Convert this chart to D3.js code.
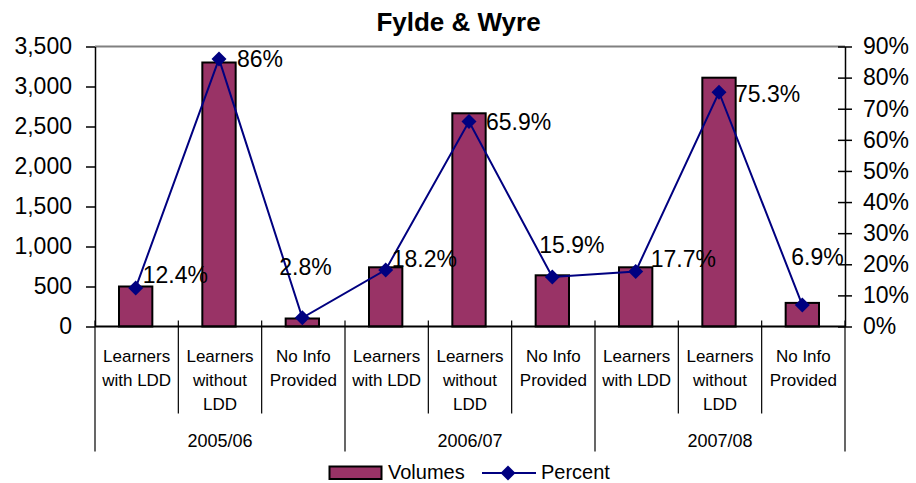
<!DOCTYPE html>
<html>
<head>
<meta charset="utf-8">
<script src="https://cdn.jsdelivr.net/npm/d3@7"></script>
<style>
  body { margin: 0; background: #fff; }
  text { font-family: "Liberation Sans", Arial, sans-serif; fill: #000; }
</style>
</head>
<body>
<svg id="chart" width="916" height="483"></svg>
<script>
const years = ['2005/06', '2006/07', '2007/08'];
const categories = ['Learners with LDD', 'Learners without LDD', 'No Info Provided'];
const categoryLines = [['Learners', 'with LDD'], ['Learners', 'without', 'LDD'], ['No Info', 'Provided']];
const volumes = [500, 3300, 100, 740, 2665, 640, 740, 3110, 295];
const percents = [0.124, 0.86, 0.028, 0.182, 0.659, 0.159, 0.177, 0.753, 0.069];
const percentLabels = ['12.4%', '86%', '2.8%', '18.2%', '65.9%', '15.9%', '17.7%', '75.3%', '6.9%'];
const volumeTicks = [0, 500, 1000, 1500, 2000, 2500, 3000, 3500];
const percentTicks = [0, 0.1, 0.2, 0.3, 0.4, 0.5, 0.6, 0.7, 0.8, 0.9];
// label nudges relative to the marker (Excel moved some of them)
const labelNudge = [[7, -13], [18, 0], [-23, -51], [6, -11], [17, 0], [-13, -32], [15, -13], [16, 1], [-11, -48]];

const svg = d3.select('#chart');
const margin = {left: 95, right: 71, top: 46.5, bottom: 156.5};
const width = 916 - margin.left - margin.right;
const height = 483 - margin.top - margin.bottom;

const rows = [];
years.forEach((yr, g) => categories.forEach((c, k) => {
  const i = g * categories.length + k;
  rows.push({key: i, year: yr, cat: k, volume: volumes[i], pct: percents[i], label: percentLabels[i]});
}));

const x = d3.scaleBand()
    .domain(rows.map((d) => d.key))
    .range([0, width])
    .paddingInner(0.6)
    .paddingOuter(0.3);
const step = x.step();
const yLeft = d3.scaleLinear().domain([0, 3500]).range([height, 0]);
const yRight = d3.scaleLinear().domain([0, 0.9]).range([height, 0]);

const chart = svg.append('g')
    .attr('transform', `translate(${margin.left},${margin.top})`);

// title
svg.append('text')
    .attr('x', 458.5)
    .attr('y', 31)
    .attr('text-anchor', 'middle')
    .style('font-size', '26px')
    .style('font-weight', 'bold')
    .text('Fylde & Wyre');

// plot border top
chart.append('line')
    .attr('x1', 0).attr('x2', width)
    .attr('y1', 0).attr('y2', 0)
    .style('stroke', '#808080')
    .style('stroke-width', 2);

// bars
chart.selectAll('rect.bar')
    .data(rows)
    .enter()
    .append('rect')
    .classed('bar', true)
    .attr('x', (d) => x(d.key) - 1)
    .attr('y', (d) => yLeft(d.volume))
    .attr('width', x.bandwidth())
    .attr('height', (d) => height - yLeft(d.volume))
    .style('fill', '#993366')
    .style('stroke', '#000')
    .style('stroke-width', 2);

// left axis
const leftAxis = chart.append('g')
    .call(d3.axisLeft(yLeft).tickValues(volumeTicks).tickFormat(d3.format(',')).tickSize(9).tickSizeOuter(0).tickPadding(14));
leftAxis.selectAll('text').style('font-size', '23px');
leftAxis.selectAll('line, path').style('stroke', '#000').style('stroke-width', 1.5);

// right axis
const rightAxis = chart.append('g')
    .attr('transform', `translate(${width},0)`)
    .call(d3.axisRight(yRight).tickValues(percentTicks).tickFormat(d3.format('.0%')).tickSize(7).tickSizeOuter(0).tickPadding(11));
rightAxis.selectAll('.tick line').attr('x1', -7);
rightAxis.selectAll('text').style('font-size', '23px');
rightAxis.selectAll('line, path').style('stroke', '#000').style('stroke-width', 1.5);

// category axis
const catAxis = chart.append('g').attr('transform', `translate(0,${height})`);
catAxis.append('line')
    .attr('x1', 0).attr('x2', width)
    .style('stroke', '#000')
    .style('stroke-width', 2);
const boundaries = d3.range(rows.length + 1);
catAxis.selectAll('line.tick')
    .data(boundaries)
    .enter()
    .append('line')
    .classed('tick', true)
    .attr('x1', (i) => i * step)
    .attr('x2', (i) => i * step)
    .attr('y1', -6)
    .attr('y2', (i) => (i % categories.length === 0 ? 125 : 87))
    .style('stroke', '#000')
    .style('stroke-width', 1.2);

const catLabels = catAxis.selectAll('text.cat')
    .data(rows)
    .enter()
    .append('text')
    .classed('cat', true)
    .attr('text-anchor', 'middle')
    .style('font-size', '17px')
    .attr('transform', (d) => `translate(${x(d.key) + x.bandwidth() / 2},35)`);
catLabels.selectAll('tspan')
    .data((d) => categoryLines[d.cat])
    .enter()
    .append('tspan')
    .attr('x', 0)
    .attr('y', (d, i) => i * 24)
    .text((d) => d);

catAxis.selectAll('text.year')
    .data(years)
    .enter()
    .append('text')
    .classed('year', true)
    .attr('x', (d, g) => (g + 0.5) * step * categories.length)
    .attr('y', 120.5)
    .attr('text-anchor', 'middle')
    .style('font-size', '18px')
    .text((d) => d);

// percent line
const px = (d) => x(d.key) + x.bandwidth() / 2 - 1;
const line = d3.line().x(px).y((d) => yRight(d.pct));
chart.append('path')
    .datum(rows)
    .attr('d', line)
    .style('fill', 'none')
    .style('stroke', '#000080')
    .style('stroke-width', 2);

const diamond = 'M0,-7.5L7.5,0L0,7.5L-7.5,0Z';
chart.selectAll('path.marker')
    .data(rows)
    .enter()
    .append('path')
    .classed('marker', true)
    .attr('d', diamond)
    .attr('transform', (d) => `translate(${px(d)},${yRight(d.pct)})`)
    .style('fill', '#000080');

chart.selectAll('text.pct')
    .data(rows)
    .enter()
    .append('text')
    .classed('pct', true)
    .attr('x', (d) => px(d) + labelNudge[d.key][0])
    .attr('y', (d) => yRight(d.pct) + labelNudge[d.key][1])
    .attr('dy', '0.36em')
    .style('font-size', '23px')
    .text((d) => d.label);

// legend
const legend = svg.append('g').attr('transform', 'translate(0,472)');
legend.append('rect')
    .attr('x', 329.5).attr('y', -5.5)
    .attr('width', 52).attr('height', 12.5)
    .style('fill', '#993366')
    .style('stroke', '#000')
    .style('stroke-width', 2);
legend.append('text')
    .attr('x', 388).attr('dy', '0.36em')
    .style('font-size', '20px')
    .text('Volumes');
legend.append('line')
    .attr('x1', 482).attr('x2', 536)
    .attr('y1', 1).attr('y2', 1)
    .style('stroke', '#000080')
    .style('stroke-width', 2);
legend.append('path')
    .attr('d', diamond)
    .attr('transform', 'translate(508,1)')
    .style('fill', '#000080');
legend.append('text')
    .attr('x', 541).attr('dy', '0.36em')
    .style('font-size', '20px')
    .text('Percent');
</script>
</body>
</html>
